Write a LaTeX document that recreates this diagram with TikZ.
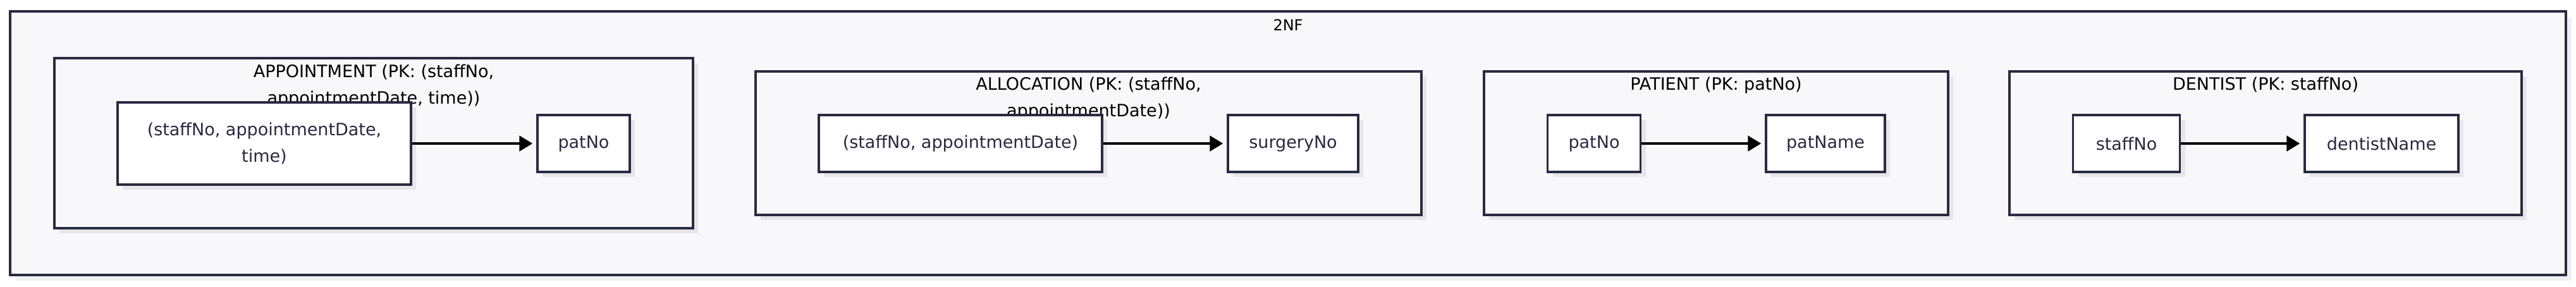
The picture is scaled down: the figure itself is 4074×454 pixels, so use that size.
\documentclass[tikz,border=0pt]{standalone}
\usepackage{fontspec}
\setmainfont{DejaVu Sans}
\usetikzlibrary{arrows.meta,shadows}
\definecolor{strokec}{HTML}{2A2A42}
\definecolor{clfill}{HTML}{F8F8FA}
\definecolor{shadowc}{HTML}{E6E6EA}
\definecolor{outershadow}{HTML}{EFEFEF}
\definecolor{nodetext}{HTML}{2A2840}
\begin{document}
\begin{tikzpicture}[x=1pt,y=-1pt,
  outerbox/.style={draw=strokec,line width=3.4pt,fill=clfill,rectangle,inner sep=0pt,
    drop shadow={shadow xshift=9pt,shadow yshift=-9pt,opacity=1,fill=outershadow}},
  clusterbox/.style={draw=strokec,line width=3.4pt,fill=clfill,rectangle,inner sep=0pt,
    minimum height=227pt,
    drop shadow={shadow xshift=8pt,shadow yshift=-8pt,opacity=1,fill=shadowc}},
  attr/.style={draw=strokec,line width=3.3pt,fill=white,rectangle,inner sep=0pt,
    minimum height=90pt,text=nodetext,font=\fontsize{27}{41.7}\selectfont,align=center,
    drop shadow={shadow xshift=8pt,shadow yshift=-8pt,opacity=1,fill=shadowc}},
  ctitle/.style={text=black,inner sep=0pt,font=\fontsize{27}{42}\selectfont,align=center},
  fd/.style={draw=black,line width=4.5pt,shorten >=6pt,-{Triangle[length=21pt,width=24pt]}}
]
\useasboundingbox (0,0) rectangle (4074,454);
% outer cluster
\node[outerbox,minimum width=4042pt,minimum height=417pt] (outer) at (2037,226.5) {};
\node[ctitle,anchor=base,font=\fontsize{24}{30}\selectfont] (t2nf) at (2037,48.3) {2NF};
% clusters
\node[clusterbox,minimum width=1010pt,minimum height=269pt] (capp) at (591,226.5) {};
\node[clusterbox,minimum width=1053pt] (calloc) at (1721.5,226.5) {};
\node[clusterbox,minimum width=734pt] (cpat) at (2714,226.5) {};
\node[clusterbox,minimum width=810pt] (cdent) at (3583,226.5) {};
% titles
\node[ctitle] (tapp) at (591,136) {APPOINTMENT (PK: (staffNo,\\appointmentDate, time))};
\node[ctitle] (talloc) at (1721.5,156) {ALLOCATION (PK: (staffNo,\\appointmentDate))};
\node[ctitle,anchor=base] (tpat) at (2714,143) {PATIENT (PK: patNo)};
\node[ctitle,anchor=base] (tdent) at (3583,142.5) {DENTIST (PK: staffNo)};
% attribute nodes
\node[attr,minimum width=464pt,minimum height=130pt] (a1) at (418,227) {(staffNo, appointmentDate,\\time)};
\node[attr,minimum width=146pt] (a2) at (923,227) {patNo};
\node[attr,minimum width=448pt] (l1) at (1519,227) {(staffNo, appointmentDate)};
\node[attr,minimum width=206pt] (l2) at (2045,227) {surgeryNo};
\node[attr,minimum width=147pt] (p1) at (2521,227) {patNo};
\node[attr,minimum width=188pt] (p2) at (2887,227) {patName};
\node[attr,minimum width=169pt] (d1) at (3363,227) {staffNo};
\node[attr,minimum width=243pt] (d2) at (3766.5,227) {dentistName};
% dependencies
\draw[fd] (a1.east) -- (a2.west);
\draw[fd] (l1.east) -- (l2.west);
\draw[fd] (p1.east) -- (p2.west);
\draw[fd] (d1.east) -- (d2.west);
\end{tikzpicture}
\end{document}
